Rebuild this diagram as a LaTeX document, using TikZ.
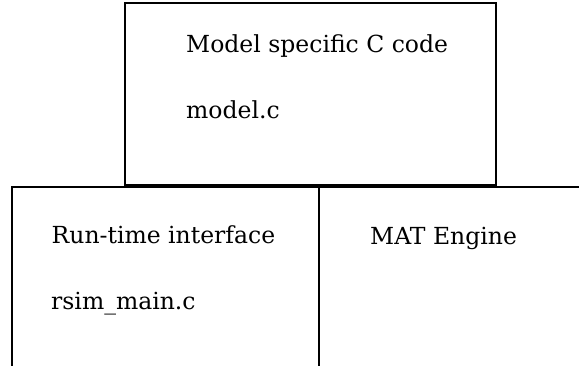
\documentclass[tikz,border=0pt]{standalone}
\usepackage{fontspec}
\setmainfont{DejaVu Serif}
\begin{document}
\begin{tikzpicture}[x=1pt,y=1pt,
  boxline/.style={draw=black,line width=2pt},
  lbl/.style={anchor=base west,inner sep=0pt,font=\fontsize{23.5}{28}\selectfont}]
\useasboundingbox (0,0) rectangle (579,365);
\clip (0,0) rectangle (579,365);
\node[boxline,minimum width=371.5pt,minimum height=181.5pt,inner sep=0pt,anchor=south west] (model) at (123.5,179.5) {};
\node[boxline,minimum width=306.7pt,minimum height=190pt,inner sep=0pt,anchor=north west] (rsim) at (11,179.5) {};
\node[boxline,minimum width=280pt,minimum height=190pt,inner sep=0pt,anchor=north west] (mat) at (317.7,179.5) {};
\node[lbl] (t1) at (186,312) {Model specific C code};
\node[lbl] (t2) at (186,247) {model.c};
\node[lbl] (t3) at (51.5,121.5) {Run-time interface};
\node[lbl] (t4) at (51,56) {rsim\_main.c};
\node[lbl] (t5) at (370,120.5) {MAT Engine};
\end{tikzpicture}
\end{document}
